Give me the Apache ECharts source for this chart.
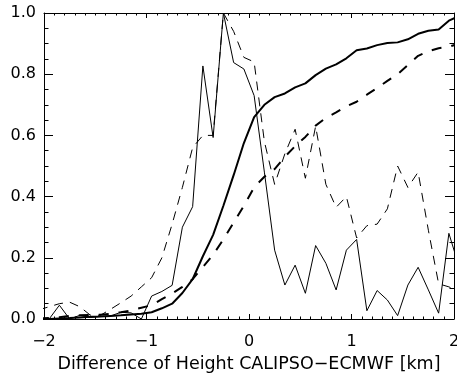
<!DOCTYPE html>
<html>
<head>
<meta charset="utf-8">
<script src="https://cdn.jsdelivr.net/npm/echarts@6/dist/echarts.min.js"></script>
<style>html,body{margin:0;padding:0;background:#fff}#c{width:457px;height:375px}</style>
</head>
<body>
<div id="c"></div>
<script>
// bin centres [km]
const bins = [-2.05,-1.95,-1.85,-1.75,-1.65,-1.55,-1.45,-1.35,-1.25,-1.15,-1.05,-0.95,-0.85,-0.75,-0.65,-0.55,-0.45,-0.35,-0.25,-0.15,-0.05,0.05,0.15,0.25,0.35,0.45,0.55,0.65,0.75,0.85,0.95,1.05,1.15,1.25,1.35,1.45,1.55,1.65,1.75,1.85,1.95,2.05];
// normalised histograms (thin) and cumulative distributions (thick)
const thinSolid = [0,0,0.045,0,0.012,0.005,0.008,0.01,0.022,0.02,0,0.075,0.09,0.11,0.3,0.367,0.827,0.593,1.0,0.838,0.817,0.73,0.48,0.225,0.111,0.176,0.084,0.24,0.182,0.095,0.225,0.26,0.027,0.093,0.062,0.011,0.111,0.169,0.095,0.019,0.28,0.17];
const thinDashed = [0.03,0.04,0.05,0.055,0.04,0.013,0.012,0.032,0.053,0.075,0.105,0.135,0.2,0.31,0.43,0.56,0.6,0.6,1.0,0.94,0.855,0.84,0.58,0.44,0.54,0.62,0.46,0.63,0.44,0.365,0.4,0.265,0.305,0.31,0.36,0.5,0.43,0.48,0.29,0.115,0.105,0.09];
const thickSolid = [0,0,0.002,0.003,0.005,0.007,0.008,0.01,0.012,0.015,0.017,0.022,0.035,0.05,0.085,0.13,0.205,0.275,0.37,0.47,0.575,0.66,0.7,0.725,0.737,0.757,0.77,0.797,0.818,0.832,0.852,0.878,0.884,0.895,0.902,0.904,0.914,0.932,0.942,0.946,0.975,0.99];
const thickDashed = [0.002,0.003,0.006,0.01,0.012,0.013,0.014,0.017,0.022,0.028,0.037,0.045,0.065,0.083,0.105,0.13,0.17,0.21,0.26,0.315,0.37,0.43,0.465,0.49,0.53,0.565,0.595,0.632,0.657,0.675,0.695,0.71,0.733,0.755,0.778,0.8,0.83,0.86,0.875,0.885,0.89,0.9];
const xTitle = 'Difference of Height CALIPSO\u2212ECMWF [km]';

const FONT = 'DejaVu Sans';
function pairs(ys){ return bins.map((x,i)=>[x, ys[i]]); }
function line(ys, width, dashed, dash){
  return { type:'line', data: pairs(ys), showSymbol:false, symbol:'none', clip:true,
    lineStyle:{ color:'#000', width: width, type: dashed ? dash : 'solid' }, silent:true };
}
const xCommon = { type:'value', min:-2, max:2, interval:1,
  axisLine:{ show:true, onZero:false, lineStyle:{ color:'#000', width:1 } },
  axisTick:{ show:true, inside:true, length:5, lineStyle:{ color:'#000' } },
  minorTick:{ show:true, splitNumber:10, length:2.5, lineStyle:{ color:'#000' } },
  splitLine:{ show:false }, minorSplitLine:{ show:false } };
const yCommon = { type:'value', min:0, max:1, interval:0.2,
  axisLine:{ show:true, onZero:false, lineStyle:{ color:'#000', width:1 } },
  axisTick:{ show:true, inside:true, length:9, lineStyle:{ color:'#000' } },
  minorTick:{ show:true, splitNumber:4, length:4.5, lineStyle:{ color:'#000' } },
  splitLine:{ show:false }, minorSplitLine:{ show:false } };

const chart = echarts.init(document.getElementById('c'), null, { renderer:'canvas' });
chart.setOption({
  animation:false,
  grid:{ left:44, right:3, top:13, bottom:56, containLabel:false, outerBoundsMode:'none' },
  xAxis:[
    Object.assign({}, xCommon, { position:'bottom',
      name: xTitle, nameLocation:'middle', nameGap:36,
      nameTextStyle:{ fontFamily:FONT, fontSize:17.5, color:'#000' },
      axisLabel:{ show:true, margin:15, fontFamily:FONT, fontSize:16, color:'#000',
        formatter: v => String(v).replace('-', '\u2212') } }),
    Object.assign({}, xCommon, { position:'top', axisLabel:{ show:false } })
  ],
  yAxis:[
    Object.assign({}, yCommon, { position:'left',
      axisLabel:{ show:true, margin:8, fontFamily:FONT, fontSize:16, color:'#000',
        formatter: v => v.toFixed(1) } }),
    Object.assign({}, yCommon, { position:'right', axisLabel:{ show:false } })
  ],
  series:[
    line(thinSolid, 1, false),
    line(thinDashed, 1, true, [9, 7]),
    line(thickSolid, 2, false),
    line(thickDashed, 2, true, [10, 10])
  ]
});
</script>
</body>
</html>
